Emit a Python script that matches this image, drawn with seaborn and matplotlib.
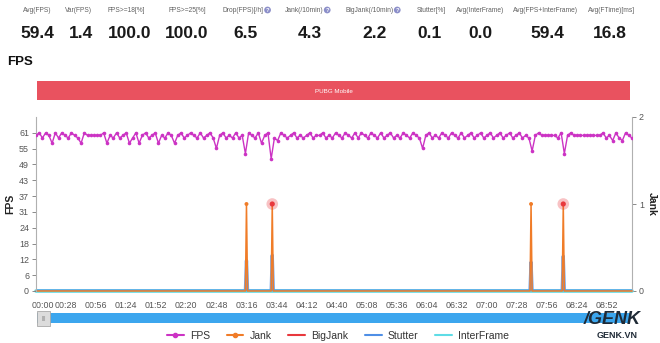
import numpy as np
import pandas as pd
import matplotlib
matplotlib.use("Agg")
import matplotlib.pyplot as plt
import matplotlib.transforms as mtransforms
import seaborn as sns
from matplotlib.lines import Line2D
from matplotlib.patches import Rectangle

# ---------------- data ----------------
metric_labels = ["Avg(FPS)", "Var(FPS)", "FPS>=18[%]", "FPS>=25[%]", "Drop(FPS)[/h]",
                 "Jank(/10min)", "BigJank(/10min)", "Stutter[%]", "Avg(InterFrame)",
                 "Avg(FPS+InterFrame)", "Avg(FTime)[ms]"]
metric_values = ["59.4", "1.4", "100.0", "100.0", "6.5", "4.3", "2.2", "0.1", "0.0", "59.4", "16.8"]
metric_help = [False, False, False, False, True, True, True, False, False, False, False]

app_name = "PUBG Mobile"
fps_step = 3  # seconds between FPS samples
fps_values = [
    60, 61, 59, 61, 60, 57, 61, 59, 61, 60,
    59, 61, 60, 59, 57, 61, 60, 60, 60, 60,
    60, 61, 57, 60, 59, 61, 59, 60, 61, 57,
    59, 61, 57, 60, 61, 59, 60, 61, 57, 60,
    59, 61, 60, 57, 60, 61, 59, 60, 61, 60,
    59, 61, 59, 60, 61, 59, 55, 60, 61, 59,
    60, 59, 61, 59, 60, 53, 61, 60, 59, 61,
    57, 60, 61, 51, 59, 58, 61, 60, 59, 60,
    61, 59, 60, 59, 60, 61, 59, 60, 60, 61,
    59, 60, 59, 61, 60, 59, 61, 60, 59, 61,
    59, 61, 60, 59, 61, 60, 59, 61, 59, 60,
    61, 59, 60, 59, 61, 60, 59, 61, 60, 59,
    55, 60, 61, 59, 60, 59, 61, 60, 59, 61,
    60, 59, 61, 59, 60, 61, 59, 60, 61, 59,
    60, 61, 59, 60, 61, 59, 60, 61, 59, 60,
    61, 59, 60, 59, 54, 60, 61, 60, 60, 60,
    60, 60, 59, 61, 53, 60, 61, 60, 60, 60,
    60, 60, 60, 60, 60, 60, 61, 59, 60, 58,
    61, 59, 58, 61, 60, 59,
]
duration = 555
jank_times = [196, 220, 461, 491]
bigjank_times = [220, 491]
stutter_times = [196, 220, 461, 491]
stutter_values = [0.35, 0.41, 0.33, 0.40]

x_tick_labels = ["00:00", "00:28", "00:56", "01:24", "01:52", "02:20", "02:48", "03:16",
                 "03:44", "04:12", "04:40", "05:08", "05:36", "06:04", "06:32", "07:00",
                 "07:28", "07:56", "08:24", "08:52"]
fps_tick_labels = ["0", "6", "12", "18", "24", "31", "37", "43", "49", "55", "61"]
jank_tick_labels = ["0", "1", "2"]

# ---------------- build frames ----------------
fps_df = pd.DataFrame({"t": np.arange(len(fps_values)) * fps_step, "fps": fps_values})
grid = np.arange(0, duration + 1)
jank = np.zeros(len(grid))
jank[jank_times] = 1
bigjank = np.zeros(len(grid))
bigjank[bigjank_times] = 1
stutter = np.zeros(len(grid))
stutter[stutter_times] = stutter_values
ev_df = pd.DataFrame({"t": grid, "jank": jank, "bigjank": bigjank, "stutter": stutter,
                      "inter": np.zeros(len(grid))})

def tsec(s):
    m, ss = s.split(":")
    return int(m) * 60 + int(ss)

# ---------------- styling ----------------
sns.set_style("white")
plt.rcParams["font.family"] = ["Liberation Sans", "DejaVu Sans"]

C_FPS = "#CC33C4"
C_JANK = "#F07C28"
C_BIG = "#E8383D"
C_STUT = "#4F8FE6"
C_INTER = "#5EDCE6"
GRAY = "#777777"

fig = plt.figure(figsize=(6.6, 3.43), dpi=100)
W, H = 660, 343

def fx(px):
    return px / W

def fy(py):
    return 1 - py / H

# metrics row
label_x = [37, 78, 126, 187, 243, 304, 370, 431, 480, 545, 612]
value_x = [37, 81, 130, 187, 245, 310, 375, 430, 480, 547, 610]
for lab, val, hx, lx, vx in zip(metric_labels, metric_values, metric_help, label_x, value_x):
    fig.text(fx(lx), fy(10), lab, ha="center", va="center", fontsize=4.8, color="#606060")
    if hx:
        tw = len(lab) * 2.7
        fig.text(fx(lx + tw / 2 + 7), fy(10), "?", ha="center", va="center", fontsize=4.2,
                 color="white", fontweight="bold",
                 bbox=dict(boxstyle="circle,pad=0.15", fc="#8C8FC9", ec="none"))
    fig.text(fx(vx), fy(33), val, ha="center", va="center", fontsize=12.5,
             fontweight="bold", color="#1a1a1a")

fig.text(fx(7), fy(62), "FPS", ha="left", va="center", fontsize=9.5, fontweight="bold",
         color="#111111")

# app banner
fig.patches.append(Rectangle((fx(37), fy(100)), fx(630) - fx(37), (100 - 81) / H,
                             transform=fig.transFigure, fc="#E9525F", ec="none"))
fig.text((fx(37) + fx(630)) / 2, fy(91), app_name, ha="center", va="center",
         fontsize=4.5, color="white")

# main axes
ax = fig.add_axes([fx(36), fy(291), fx(632) - fx(36), (291 - 117) / H])
ax2 = ax.twinx()

sns.lineplot(data=ev_df, x="t", y="inter", ax=ax2, color=C_INTER, lw=2.6, clip_on=False,
             legend=False, zorder=2)
sns.lineplot(data=ev_df, x="t", y="stutter", ax=ax2, color=C_STUT, lw=2.4, alpha=0.8,
             legend=False, zorder=3)
ax2.fill_between(ev_df["t"], 0, ev_df["stutter"], color=C_STUT, alpha=0.45, lw=0, zorder=3)
sns.lineplot(data=ev_df, x="t", y="jank", ax=ax2, color=C_JANK, lw=1.1, clip_on=False,
             legend=False, zorder=4)
big_df = ev_df[ev_df["bigjank"] > 0]
jank_df = ev_df[(ev_df["jank"] > 0) & (ev_df["bigjank"] == 0)]
sns.scatterplot(data=big_df, x="t", y="bigjank", ax=ax2, color=C_BIG, s=70, alpha=0.3,
                edgecolor="none", legend=False, zorder=5)
sns.scatterplot(data=big_df, x="t", y="bigjank", ax=ax2, color=C_BIG, s=14,
                edgecolor="none", legend=False, zorder=6)
sns.scatterplot(data=jank_df, x="t", y="jank", ax=ax2, color=C_JANK, s=8,
                edgecolor="none", legend=False, zorder=6)

sns.lineplot(data=fps_df, x="t", y="fps", ax=ax, color=C_FPS, lw=1.0, marker="o",
             markersize=2.6, markeredgewidth=0, legend=False, zorder=5)

ax.set_zorder(ax2.get_zorder() + 1)
ax.patch.set_visible(False)

ax.set_xlim(0, duration)
ax.set_ylim(0, 67.1)
ax.set_yticks([i * 6.1 for i in range(len(fps_tick_labels))])
ax.set_yticklabels(fps_tick_labels)
xt = [tsec(s) for s in x_tick_labels]
ax.set_xticks(xt)
ax.set_xticklabels(x_tick_labels)
ax2.set_ylim(0, 2)
ax2.set_yticks(range(len(jank_tick_labels)))
ax2.set_yticklabels(jank_tick_labels)

for a in (ax, ax2):
    a.tick_params(axis="both", labelsize=6.4, colors=GRAY, length=3, width=0.6, pad=2)
    for sp in a.spines.values():
        sp.set_color("#B0B0B0")
        sp.set_linewidth(0.8)
    a.spines["top"].set_visible(False)
ax.spines["right"].set_visible(False)
ax2.spines["left"].set_visible(False)
ax2.spines["bottom"].set_visible(False)
ax.spines["bottom"].set_visible(False)
ax.tick_params(axis="x", pad=4)
for lbl in ax.get_xticklabels() + ax.get_yticklabels() + ax2.get_yticklabels():
    lbl.set_color("#555555")
first = ax.get_xticklabels()[0]
first.set_ha("left")
first.set_transform(first.get_transform() +
                    mtransforms.ScaledTranslation(-4 / 100, 0, fig.dpi_scale_trans))

ax.set_xlabel("")
ax.set_ylabel("FPS", fontsize=7.5, fontweight="bold", color="#222222", labelpad=3)
ax2.set_ylabel("Jank", fontsize=7.5, fontweight="bold", color="#222222", rotation=270,
               labelpad=9)

# slider
fig.patches.append(Rectangle((fx(37), fy(323)), fx(630) - fx(37), 10 / H,
                             transform=fig.transFigure, fc="#3CA6EE", ec="none"))
fig.patches.append(Rectangle((fx(37), fy(326)), 13 / W, 15 / H, transform=fig.transFigure,
                             fc="#DCDCDC", ec="#A8A8A8", lw=0.6))
fig.text(fx(43.5), fy(318.5), "|||", ha="center", va="center", fontsize=4, color="#888888")

# legend
handles = [
    Line2D([], [], color=C_FPS, lw=1.5, marker="o", markersize=3),
    Line2D([], [], color=C_JANK, lw=1.5, marker="o", markersize=3),
    Line2D([], [], color=C_BIG, lw=1.5),
    Line2D([], [], color=C_STUT, lw=1.5),
    Line2D([], [], color=C_INTER, lw=1.5),
]
fig.legend(handles, ["FPS", "Jank", "BigJank", "Stutter", "InterFrame"], loc="center",
           bbox_to_anchor=(fx(338), fy(336)), ncol=5, frameon=False, fontsize=7.5,
           handlelength=1.6, columnspacing=1.6, handletextpad=0.6, labelcolor="#333333")

# watermark
fig.text(fx(612), fy(320), "/GENK", ha="center", va="center", fontsize=13,
         fontweight="bold", style="italic", color="#1f2a36")
fig.text(fx(617), fy(335), "GENK.VN", ha="center", va="center", fontsize=6.5,
         fontweight="bold", color="#1f2a36")

fig.savefig("out.png", dpi=100)
